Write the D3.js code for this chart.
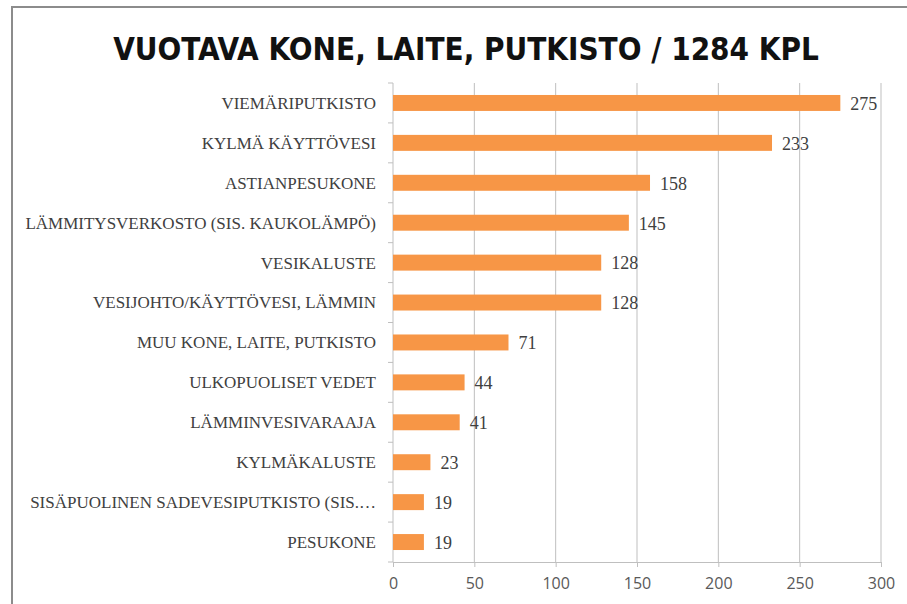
<!DOCTYPE html>
<html>
<head>
<meta charset="utf-8">
<script src="https://cdn.jsdelivr.net/npm/d3@7"></script>
<style>
  body { margin: 0; background: #fff; }
</style>
</head>
<body>
<div id="chart-area"></div>
<script>
// chart values
var categories = [
  "VIEMÄRIPUTKISTO",
  "KYLMÄ KÄYTTÖVESI",
  "ASTIANPESUKONE",
  "LÄMMITYSVERKOSTO (SIS. KAUKOLÄMPÖ)",
  "VESIKALUSTE",
  "VESIJOHTO/KÄYTTÖVESI, LÄMMIN",
  "MUU KONE, LAITE, PUTKISTO",
  "ULKOPUOLISET VEDET",
  "LÄMMINVESIVARAAJA",
  "KYLMÄKALUSTE",
  "SISÄPUOLINEN SADEVESIPUTKISTO (SIS.…",
  "PESUKONE"
];
var counts = [275, 233, 158, 145, 128, 128, 71, 44, 41, 23, 19, 19];
var xTicks = [0, 50, 100, 150, 200, 250, 300];
var title = "VUOTAVA KONE, LAITE, PUTKISTO / 1284 KPL";

var width = 907
var height = 604
var margin = { top: 83, right: 26, bottom: 42, left: 393 }
var innerW = 881 - margin.left
var innerH = 562 - margin.top

var svg = d3.select("#chart-area")
  .append("svg")
  .attr("width", width)
  .attr("height", height)

// outer frame
svg.append("rect")
  .attr("x", 12).attr("y", 7)
  .attr("width", width).attr("height", height)
  .attr("fill", "none")
  .attr("stroke", "#8c8c8c")
  .attr("stroke-width", 2)

var titleText = svg.append("text")
  .attr("x", 466)
  .attr("y", 60)
  .attr("text-anchor", "middle")
  .attr("font-family", "'DejaVu Sans Condensed', 'Liberation Sans Narrow', sans-serif")
  .attr("font-weight", "bold")
  .attr("font-size", "36px")
  .style("fill", "#111")
  .text(title)
// fit the title to the reference width (~706px) by font size
var natural = titleText.node().getComputedTextLength()
titleText.attr("font-size", (36 * 706 / natural) + "px")

var g = svg.append("g")
  .attr("transform", `translate(${margin.left}, ${margin.top})`)

var x = d3.scaleLinear().domain([0, 300]).range([0, innerW])
var y = d3.scaleBand().domain(categories).range([0, innerH]).paddingInner(0.6).paddingOuter(0.3)

// gridlines
g.selectAll(".grid")
  .data(xTicks.slice(1))
  .enter().append("line")
  .attr("class", "grid")
  .attr("x1", (d) => x(d)).attr("x2", (d) => x(d))
  .attr("y1", 0).attr("y2", innerH)
  .attr("stroke", "#bfbfbf")

// bottom axis
var bottomAxis = d3.axisBottom(x).tickValues(xTicks).tickSize(5).tickSizeOuter(0).tickPadding(11)
var xAxisGroup = g.append("g")
  .attr("transform", "translate(0, " + innerH + ")")
  .call(bottomAxis)
xAxisGroup.select(".domain").attr("stroke", "#bfbfbf")
xAxisGroup.selectAll(".tick line").attr("stroke", "#bfbfbf")
xAxisGroup.selectAll(".tick text")
  .attr("font-family", "'Open Sans', 'Liberation Sans', sans-serif")
  .attr("font-size", "16px")
  .attr("fill", "#595959")

// left axis: line + ticks at band boundaries
var bounds = d3.range(categories.length + 1).map((i) => i * innerH / categories.length)
g.append("line")
  .attr("x1", 0).attr("x2", 0).attr("y1", 0).attr("y2", innerH)
  .attr("stroke", "#bfbfbf")
g.selectAll(".ytick")
  .data(bounds)
  .enter().append("line")
  .attr("class", "ytick")
  .attr("x1", -5).attr("x2", 0)
  .attr("y1", (d) => d).attr("y2", (d) => d)
  .attr("stroke", "#bfbfbf")

g.selectAll(".cat")
  .data(categories)
  .enter().append("text")
  .attr("class", "cat")
  .attr("x", -17)
  .attr("y", (d) => y(d) + y.bandwidth() / 2)
  .attr("dy", "0.35em")
  .attr("text-anchor", "end")
  .attr("font-family", "'Liberation Serif', 'DejaVu Serif', serif")
  .attr("font-size", "17px")
  .attr("fill", "#404040")
  .text((d) => d)

// bars
g.selectAll(".bar")
  .data(counts)
  .enter().append("rect")
  .attr("class", "bar")
  .attr("x", 0)
  .attr("y", (d, i) => y(categories[i]))
  .attr("width", (d) => x(d))
  .attr("height", y.bandwidth())
  .attr("fill", "#f79646")

g.selectAll(".val")
  .data(counts)
  .enter().append("text")
  .attr("class", "val")
  .attr("x", (d) => x(d) + 10)
  .attr("y", (d, i) => y(categories[i]) + y.bandwidth() / 2)
  .attr("dy", "0.38em")
  .attr("font-family", "'Liberation Serif', 'DejaVu Serif', serif")
  .attr("font-size", "18px")
  .attr("fill", "#404040")
  .text((d) => d)
</script>
</body>
</html>
